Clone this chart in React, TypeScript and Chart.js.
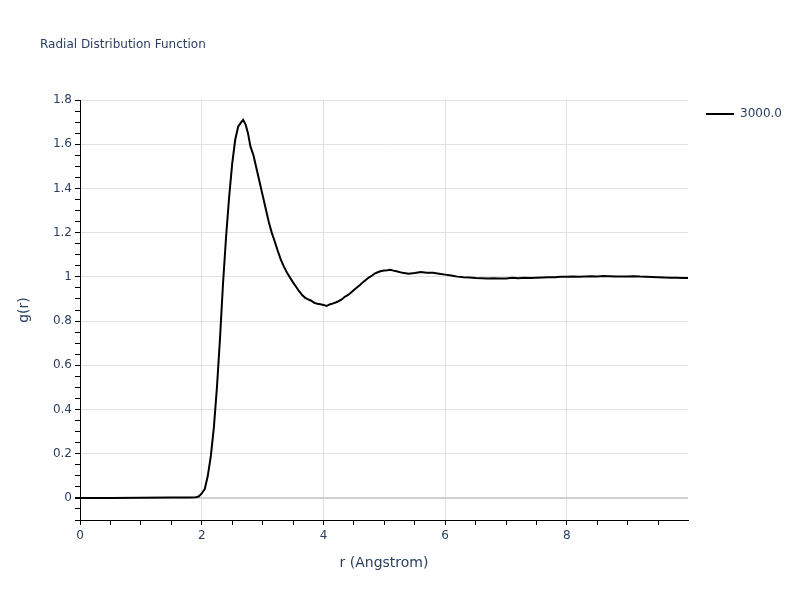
import React, { useEffect, useRef } from "react";
import { Chart, registerables } from "chart.js";

Chart.register(...registerables);

const chartTitle = "Radial Distribution Function";
const seriesName = "3000.0";
const xAxisTitle = "r (Angstrom)";
const yAxisTitle = "g(r)";

const xTickLabels = [0, 2, 4, 6, 8];
const yTickLabels = [0, 0.2, 0.4, 0.6, 0.8, 1, 1.2, 1.4, 1.6, 1.8];

const rValues = [
  0, 0.5, 1.0, 1.5, 1.8, 1.9, 1.95, 2.0, 2.05, 2.1, 2.15, 2.2, 2.25, 2.3, 2.35,
  2.4, 2.45, 2.5, 2.55, 2.6, 2.65, 2.68, 2.72, 2.76, 2.8, 2.85, 2.9, 2.95, 3.0,
  3.05, 3.1, 3.15, 3.2, 3.25, 3.3, 3.35, 3.4, 3.45, 3.5, 3.55, 3.6, 3.65, 3.7,
  3.75, 3.8, 3.85, 3.9, 3.95, 4.0, 4.05, 4.1, 4.15, 4.2, 4.25, 4.3, 4.35, 4.4,
  4.45, 4.5, 4.55, 4.6, 4.65, 4.7, 4.75, 4.8, 4.85, 4.9, 4.95, 5.0, 5.05, 5.1,
  5.15, 5.2, 5.3, 5.4, 5.5, 5.6, 5.7, 5.8, 5.9, 6.0, 6.1, 6.2, 6.3, 6.4, 6.5,
  6.6, 6.7, 6.8, 6.9, 7.0, 7.1, 7.2, 7.3, 7.4, 7.5, 7.6, 7.7, 7.8, 7.9, 8.0,
  8.1, 8.2, 8.3, 8.4, 8.5, 8.6, 8.7, 8.8, 8.9, 9.0, 9.1, 9.2, 9.3, 9.4, 9.5,
  9.6, 9.7, 9.8, 9.9, 9.99,
];

const gValues = [
  0, 0.0, 0.001, 0.002, 0.002, 0.003, 0.006, 0.02, 0.04, 0.1, 0.19, 0.32, 0.5,
  0.72, 0.97, 1.18, 1.36, 1.51, 1.62, 1.68, 1.7, 1.71, 1.69, 1.65, 1.59, 1.55,
  1.49, 1.43, 1.37, 1.31, 1.25, 1.2, 1.16, 1.117, 1.078, 1.046, 1.02, 0.997,
  0.975, 0.955, 0.935, 0.918, 0.905, 0.898, 0.892, 0.882, 0.878, 0.876, 0.873,
  0.868, 0.875, 0.879, 0.884, 0.89, 0.898, 0.91, 0.917, 0.928, 0.94, 0.952,
  0.963, 0.976, 0.987, 0.998, 1.006, 1.016, 1.022, 1.026, 1.029, 1.03, 1.032,
  1.028, 1.025, 1.018, 1.014, 1.017, 1.022, 1.019, 1.018, 1.014, 1.01, 1.006,
  1.001, 0.998, 0.997, 0.995, 0.994, 0.993, 0.994, 0.992, 0.993, 0.996, 0.994,
  0.996, 0.995, 0.996, 0.997, 0.998, 0.998, 1.0, 1.0, 1.001, 1.0, 1.002, 1.003,
  1.002, 1.004, 1.003, 1.002, 1.001, 1.002, 1.003, 1.001, 1.0, 0.999, 0.998,
  0.997, 0.996, 0.996, 0.995, 0.995,
];

const FONT = '"DejaVu Sans", verdana, sans-serif';
const TEXT = "#2a3f5f";
const GRID = "#e1e1e1";

export default function App() {
  const ref = useRef<HTMLCanvasElement>(null);

  useEffect(() => {
    const canvas = ref.current;
    if (!canvas) return;
    const isMajorX = (v: number) => xTickLabels.some((t) => Math.abs(t - v) < 1e-6);
    const isMajorY = (v: number) => yTickLabels.some((t) => Math.abs(t - v) < 1e-6);

    const overlay = {
      id: "overlay",
      afterDraw(chart: any) {
        const ctx = chart.ctx;
        const area = chart.chartArea;
        ctx.save();
        ctx.fillStyle = TEXT;
        ctx.textBaseline = "middle";
        ctx.textAlign = "left";
        ctx.font = `12px ${FONT}`;
        ctx.fillText(chartTitle, 40, 45);

        // legend
        ctx.strokeStyle = "#000";
        ctx.lineWidth = 2;
        ctx.beginPath();
        ctx.moveTo(706, 114);
        ctx.lineTo(734, 114);
        ctx.stroke();
        ctx.fillText(seriesName, 740, 114);

        // axis titles
        ctx.font = `14px ${FONT}`;
        ctx.textAlign = "center";
        ctx.fillText(xAxisTitle, (area.left + area.right) / 2, 563);
        ctx.translate(24, (area.top + area.bottom) / 2);
        ctx.rotate(-Math.PI / 2);
        ctx.fillText(yAxisTitle, 0, 0);
        ctx.restore();
      },
    };

    const chart = new Chart(canvas, {
      type: "line",
      data: {
        datasets: [
          {
            label: seriesName,
            data: rValues.map((r, i) => ({ x: r, y: gValues[i] })),
            borderColor: "#000",
            borderWidth: 2,
            pointRadius: 0,
            fill: false,
            tension: 0,
          },
        ],
      },
      options: {
        animation: false,
        responsive: false,
        layout: { padding: { left: 0, top: 100, right: 112, bottom: 0 } },
        plugins: {
          legend: { display: false },
          title: { display: false },
          tooltip: { enabled: false },
        },
        scales: {
          x: {
            type: "linear",
            min: 0,
            max: 9.99,
            afterFit: (s: any) => {
              s.height = 80;
            },
            ticks: {
              stepSize: 0.5,
              includeBounds: false,
              autoSkip: false,
              maxRotation: 0,
              color: TEXT,
              padding: 4,
              font: { size: 12, family: FONT },
              callback: (v: any) => (isMajorX(Number(v)) ? String(Math.round(Number(v))) : ""),
            },
            grid: {
              color: (c: any) => {
                const v = c.tick ? c.tick.value : NaN;
                return isMajorX(v) && v !== 0 ? GRID : "rgba(0,0,0,0)";
              },
              tickColor: "#000",
              tickLength: 5,
            },
            border: { display: true, color: "#000", width: 1 },
          },
          y: {
            type: "linear",
            min: -0.1,
            max: 1.8,
            afterFit: (s: any) => {
              s.width = 80;
            },
            ticks: {
              stepSize: 0.05,
              includeBounds: false,
              autoSkip: false,
              color: TEXT,
              padding: 3,
              font: { size: 12, family: FONT },
              callback: (v: any) => {
                const n = Number(v);
                return isMajorY(n) ? String(Math.round(n * 10) / 10) : "";
              },
            },
            grid: {
              color: (c: any) => {
                const v = c.tick ? c.tick.value : NaN;
                if (Math.abs(v) < 1e-6) return "#d0d0d0";
                return isMajorY(v) ? GRID : "rgba(0,0,0,0)";
              },
              lineWidth: (c: any) => {
                const v = c.tick ? c.tick.value : NaN;
                return Math.abs(v) < 1e-6 ? 2 : 1;
              },
              tickColor: "#000",
              tickLength: 5,
            },
            border: { display: true, color: "#000", width: 1 },
          },
        },
      },
      plugins: [overlay],
    } as any);

    return () => chart.destroy();
  }, []);

  return (
    <div style={{ position: "fixed", left: 0, top: 0, width: 800, height: 600, background: "#fff" }}>
      <canvas ref={ref} width={800} height={600} style={{ display: "block" }} />
    </div>
  );
}
